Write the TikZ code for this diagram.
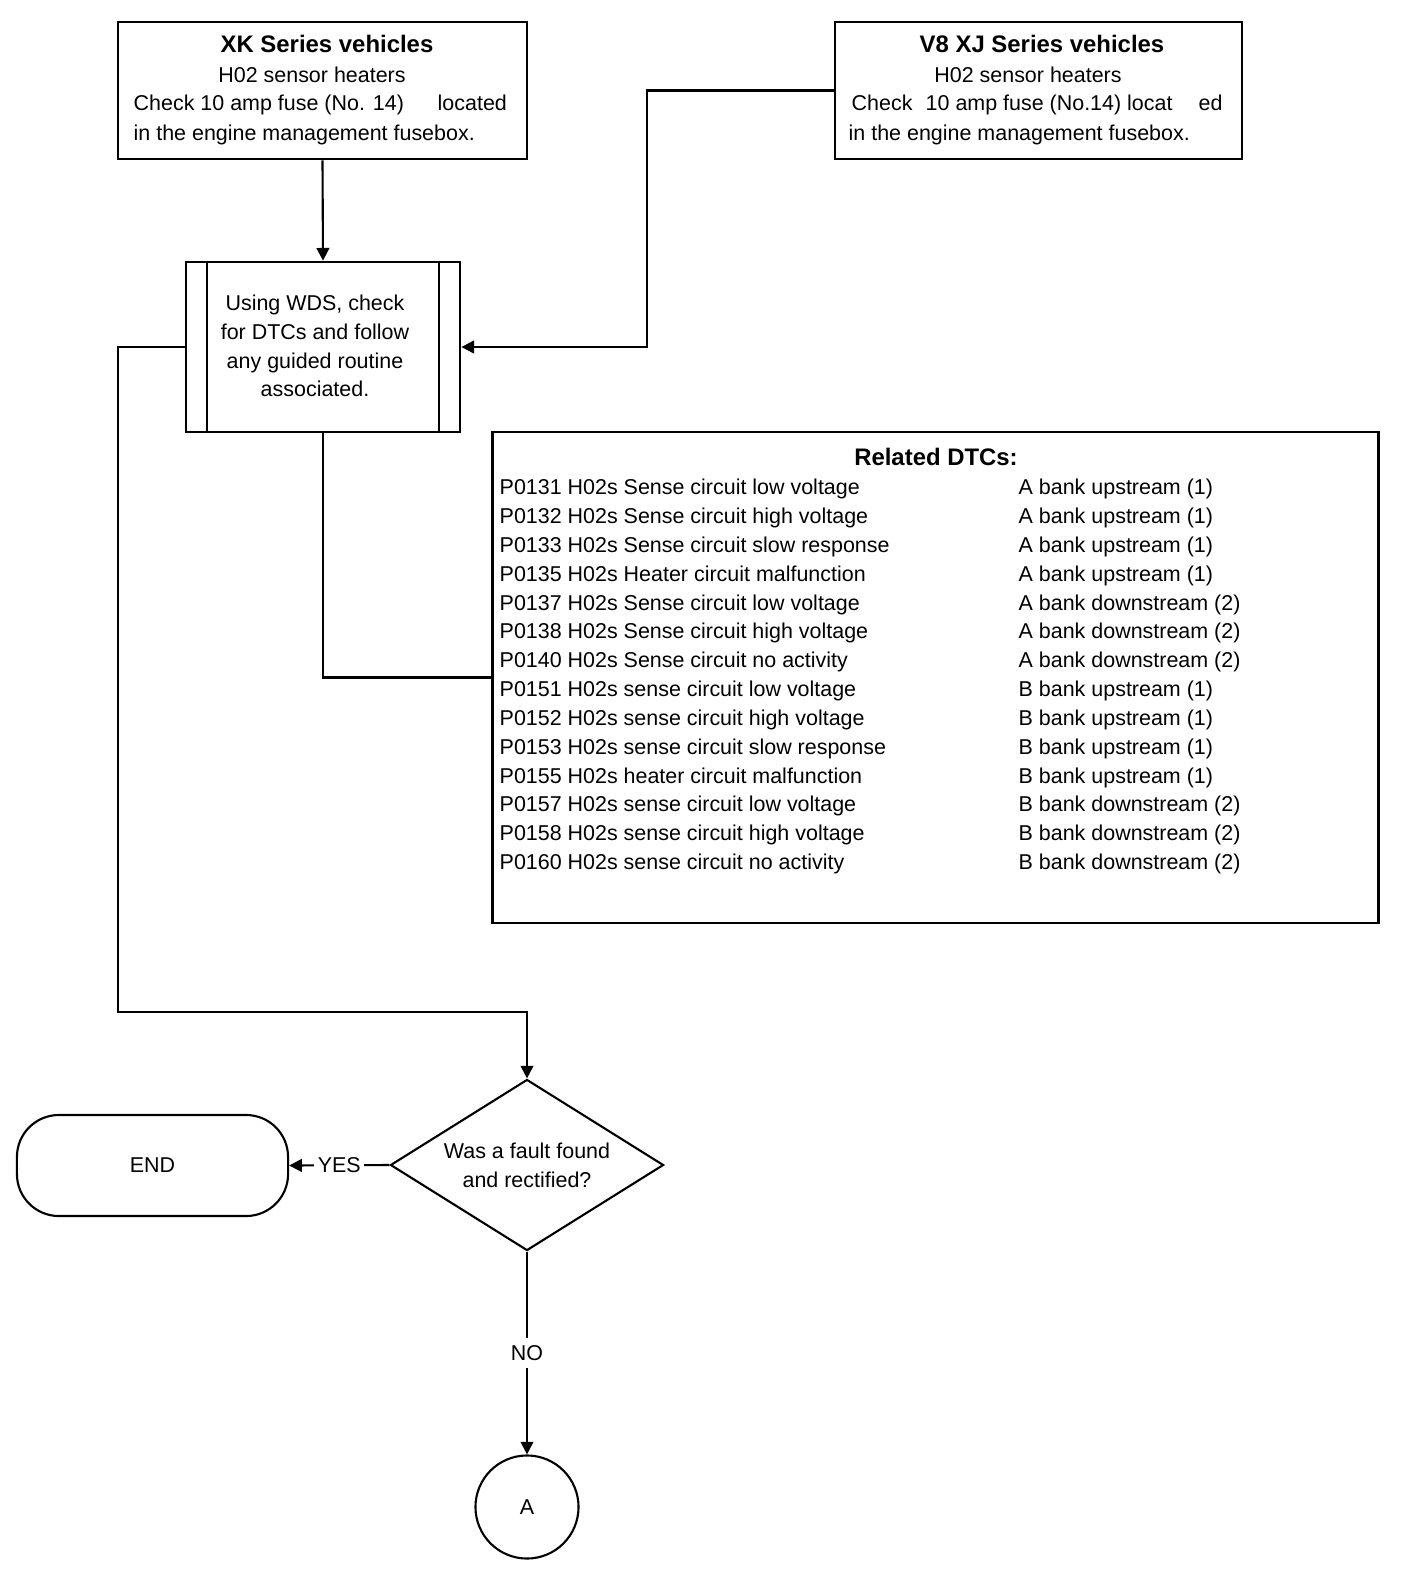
\documentclass[tikz,border=0pt]{standalone}
\usepackage{fontspec}
\setmainfont{Liberation Sans}
\usetikzlibrary{arrows.meta,shapes.geometric}

\begin{document}
\begin{tikzpicture}[x=0.01cm, y=-0.01cm,
        box/.style={draw, line width=0.75pt, inner sep=0pt},
        txt/.style={inner sep=0pt, font=\fontsize{6.1}{8.2}\selectfont,
          text height=4.5pt, text depth=1.3pt},
        ttl/.style={txt, font=\fontsize{6.8}{8.2}\selectfont\bfseries},
        arr/.style={-{Triangle[length=3.6pt, width=3.6pt]}, line width=0.6pt},
        link/.style={line width=0.6pt},
      ]
        \useasboundingbox (0,0) rectangle (1408,1572);
        \def\rowh{28.85}  % row spacing in the DTC list

        % XK series
        \node[box, minimum width=4.09cm, minimum height=1.37cm] (xk) at (322.5,90.5) {};
        \node[ttl] (xkttl) at (327,47) {XK Series vehicles};
        \node[txt] (xkl1) at (312,77) {H02 sensor heaters};
        \node[txt, anchor=west] (xkl2) at (133,105) {Check 10 amp fuse (No. 14)};
        \node[txt, anchor=west] (xkl2b) at (437,105) {located};
        \node[txt, anchor=west] (xkl3) at (133,135) {in the engine management fusebox.};

        % V8 XJ series
        \node[box, minimum width=4.07cm, minimum height=1.37cm] (xj) at (1038.5,90.5) {};
        \node[ttl] (xjttl) at (1042,47) {V8 XJ Series vehicles};
        \node[txt] (xjl1) at (1028,77) {H02 sensor heaters};
        \node[txt, anchor=west] (xjl2) at (851,105) {Check};
        \node[txt, anchor=west] (xjl2b) at (925,105) {10 amp fuse (No.14) locat};
        \node[txt, anchor=west] (xjl2c) at (1198,105) {ed};
        \node[txt, anchor=west] (xjl3) at (848,135) {in the engine management fusebox.};

        % WDS check (predefined process)
        \node[box, minimum width=2.74cm, minimum height=1.70cm] (wds) at (323,347) {};
        \draw[link] ([xshift=0.22cm]wds.north west) -- ([xshift=0.22cm]wds.south west);
        \draw[link] ([xshift=-0.22cm]wds.north east) -- ([xshift=-0.22cm]wds.south east);
        \node[txt, align=center, text height=, text depth=] (wdstxt) at (315,346)
          {Using WDS, check\\for DTCs and follow\\any guided routine\\associated.};

        % Related DTCs
        \node[box, minimum width=8.85cm, minimum height=4.91cm] (dtc) at (935.5,677.5) {};
        \node[ttl] (dtcttl) at (936,460) {Related DTCs:};
        \foreach \code/\bank [count=\i from 0] in {
            P0131 H02s Sense circuit low voltage/A bank upstream (1),
            P0132 H02s Sense circuit high voltage/A bank upstream (1),
            P0133 H02s Sense circuit slow response/A bank upstream (1),
            P0135 H02s Heater circuit malfunction/A bank upstream (1),
            P0137 H02s Sense circuit low voltage/A bank downstream (2),
            P0138 H02s Sense circuit high voltage/A bank downstream (2),
            P0140 H02s Sense circuit no activity/A bank downstream (2),
            P0151 H02s sense circuit low voltage/B bank upstream (1),
            P0152 H02s sense circuit high voltage/B bank upstream (1),
            P0153 H02s sense circuit slow response/B bank upstream (1),
            P0155 H02s heater circuit malfunction/B bank upstream (1),
            P0157 H02s sense circuit low voltage/B bank downstream (2),
            P0158 H02s sense circuit high voltage/B bank downstream (2),
            P0160 H02s sense circuit no activity/B bank downstream (2)} {
          \node[txt, anchor=west] (code\i) at (499,489+\i*\rowh) {\code};
          \node[txt, anchor=west] (bank\i) at (1018,489+\i*\rowh) {\bank};
        }

        % Decision, end and connector A
        \node[draw, diamond, line width=0.6pt, inner sep=0pt, aspect=1.6,
          minimum width=2.73cm, minimum height=1.71cm, align=center,
          font=\fontsize{6.1}{8.2}\selectfont] (fault) at (527,1165)
          {Was a fault found\\and rectified?};
        \node[draw, line width=0.6pt, rounded corners=0.42cm, minimum width=2.71cm,
          minimum height=1.01cm, font=\fontsize{6.1}{8.2}\selectfont] (end) at (152.5,1165.5) {END};
        \node[draw, circle, line width=0.6pt, minimum size=1.03cm,
          font=\fontsize{6.1}{8.2}\selectfont] (conA) at (527,1507) {A};

        % Connectors
        \coordinate (xjbend) at (647,90.5);
        \coordinate (loopleft) at (118,1012);
        \draw[arr] (xk.south) -- (wds.north);
        \draw[arr] (xj.west) -- (xjbend) |- (wds.east);
        \draw[link] (wds.south) |- (dtc.west);
        \draw[arr] (wds.west) -| (loopleft) -| (fault.north);
        \draw[arr] (fault.west) -- node[fill=white, inner sep=1pt,
          font=\fontsize{6.1}{8.2}\selectfont] (yes) {YES} (end.east);
        \draw[arr] (fault.south) -- node[fill=white, inner sep=2pt,
          font=\fontsize{6.1}{8.2}\selectfont] (no) {NO} (conA.north);
      \end{tikzpicture}
\end{document}
